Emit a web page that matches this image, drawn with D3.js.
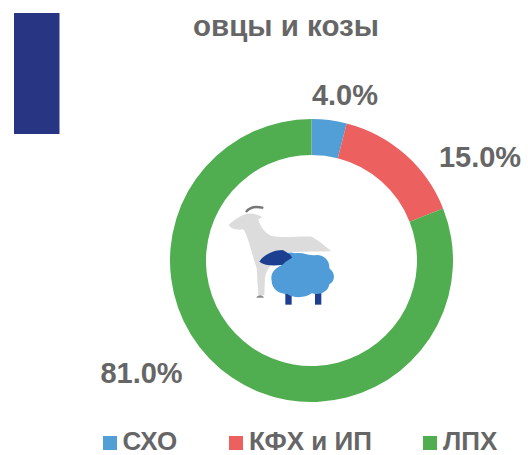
<!DOCTYPE html>
<html><head><meta charset="utf-8"><script src="https://cdn.jsdelivr.net/npm/d3@7"></script>
<style>html,body{margin:0;padding:0;background:#fff}svg{display:block}text{font-family:"Liberation Sans",Arial,sans-serif;font-weight:700;fill:#666}</style></head>
<body><svg id="c" width="528" height="455"></svg>
<script>
const categories=["СХО","КФХ и ИП","ЛПХ"];
const values=[4.0,15.0,81.0];
const colors=["#529fd8","#ed6060","#50ae51"];
const labels=["4.0%","15.0%","81.0%"];
const svg=d3.select("#c");
const cx=311.5,cy=260.5,R=141.5,r=105.5;
svg.append("rect").attr("x",14).attr("y",13).attr("width",45.5).attr("height",121).attr("fill","#283583");
svg.append("text").attr("x",286).attr("y",36).attr("text-anchor","middle").attr("font-size",29.5).text("овцы и козы");
const pie=d3.pie().sort(null)(values);
const arc=d3.arc().innerRadius(r).outerRadius(R);
const g=svg.append("g").attr("transform",`translate(${cx},${cy})`);
g.selectAll("path").data(pie).join("path").attr("d",arc).attr("fill",(d,i)=>colors[i]);
const labelPos=[[345,104.5],[480,167],[141.5,383]];
svg.selectAll("text.l").data(labels).join("text").attr("class","l").attr("x",(d,i)=>labelPos[i][0]).attr("y",(d,i)=>labelPos[i][1]).attr("text-anchor","middle").attr("font-size",29).text(d=>d);
const legX=[103,229,423],txtX=[122.5,249,443];
categories.forEach((c,i)=>{
 svg.append("rect").attr("x",legX[i]).attr("y",436).attr("width",14).attr("height",14).attr("fill",colors[i]);
 svg.append("text").attr("x",txtX[i]).attr("y",449.5).attr("font-size",26).text(c);
});
const defs=svg.append("defs");
defs.append("filter").attr("id","soft").append("feGaussianBlur").attr("stdDeviation",0.5);
const ill=svg.append("g").attr("transform","translate(210,190) scale(0.3333)").attr("filter","url(#soft)");
ill.append("path").attr("fill","#dcdcdc").attr("d","M56 105 C70 90 90 78 108 72 C125 68 140 72 158 82 L145 88 C150 110 165 130 185 138 C220 145 270 138 305 140 C325 150 345 168 364 184 L240 186 C200 200 175 225 165 260 L163 315 L145 315 L140 235 C125 190 115 140 100 118 C85 120 65 120 56 105Z");
ill.append("path").attr("fill","none").attr("stroke","#777").attr("stroke-width",7).attr("d","M108 66 C118 52 138 48 160 54");
ill.append("path").attr("fill","#8a8a8a").attr("d","M139 323 C141 314 158 312 162 323Z");
ill.selectAll("rect.leg").data([226,315]).join("rect").attr("class","leg").attr("x",d=>d).attr("y",305).attr("width",19).attr("height",39).attr("fill","#1c3f8f");
ill.append("path").attr("fill","#4f9cd8").attr("d","M185 272 C180 250 195 235 215 225 C215 200 230 180 255 190 C280 185 300 200 320 195 C345 195 360 215 358 235 C378 250 375 275 358 283 C355 305 330 318 305 310 C285 325 250 325 232 312 C205 312 185 295 185 272Z");
ill.append("path").attr("fill","#1c3f8f").attr("d","M148 215 C160 195 190 180 218 180 C235 190 245 195 246 203 C235 210 225 215 218 224 C195 228 165 228 148 215Z");
</script></body></html>
